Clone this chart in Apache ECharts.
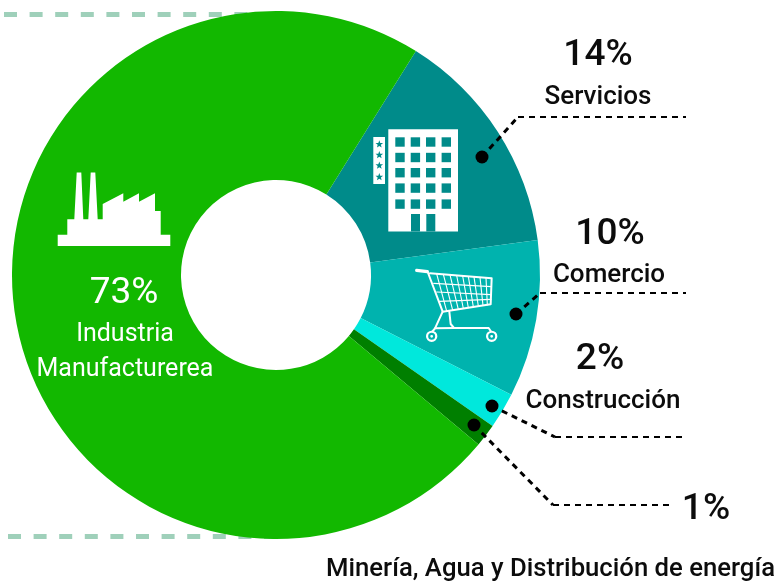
<!DOCTYPE html>
<html><head><meta charset="utf-8">
<style>html,body{margin:0;padding:0;background:#fff}#c{width:778px;height:582px}</style>
<script src="https://cdn.jsdelivr.net/npm/echarts@6/dist/echarts.min.js"></script>
</head><body><div id="c"></div>
<script>
const categories = ['Servicios','Comercio','Construcción','Minería, Agua y Distribución de energía','Industria Manufacturerea'];
const values = [14,9.6,2.2,1.4,72.8];
const sliceColors = ['#008b8a','#00b3ae','#00e8dc','#007f00','#12b800'];
const percentLabels = ['14%','10%','2%','1%','73%'];

const chart = echarts.init(document.getElementById('c'), null, {renderer:'canvas'});
const FONT = 'Roboto';
const INK = '#0c0c0c';
const txt = (text,x,y,size,fill,weight,align) => ({type:'text',z:20,style:{text,x,y,fontFamily:FONT,fontSize:size,fontWeight:weight||500,fill:fill||INK,align:align||'center',verticalAlign:'middle'}});
const dashed = (points,w) => ({type:'polyline',z:20,shape:{points},style:{fill:null,stroke:'#000',lineWidth:w,lineDash:[6,5]}});
const leader = (a,b,c) => [dashed([a,b],3),dashed([b,c],2.2),dot(a[0],a[1])];
const dot = (x,y) => ({type:'circle',z:21,shape:{cx:x,cy:y,r:6.5},style:{fill:'#000'}});
const star = (cx,cy,r,fill) => {const p=[];for(let i=0;i<10;i++){const a=-Math.PI/2+i*Math.PI/5,q=i%2?r*0.42:r;p.push([cx+q*Math.cos(a),cy+q*Math.sin(a)]);}return {type:'polygon',z:22,shape:{points:p},style:{fill}};};
const el = [];
// pale dashed rules behind the ring
el.push({type:'line',z:0,shape:{x1:4,y1:14.5,x2:250,y2:14.5},style:{stroke:'#9fd0ba',lineWidth:5,lineDash:[13,12.6]}});
el.push({type:'line',z:0,shape:{x1:8,y1:536.5,x2:278,y2:536.5},style:{stroke:'#9fd0ba',lineWidth:5,lineDash:[13,12.6]}});
// leader lines
el.push(...leader([482,157],[518,117],[686,117]));
el.push(...leader([516,314],[540,293],[686,293]));
el.push(...leader([492,406],[555,437],[686,437]));
el.push(...leader([474,425],[553,505],[670,505]));
// hotel icon
const W='#fff', T=sliceColors[0], T2=sliceColors[1];
el.push({type:'rect',z:21,shape:{x:388.3,y:129.3,width:69.7,height:102.2},style:{fill:W}});
el.push({type:'rect',z:21,shape:{x:373.3,y:137,width:11.7,height:47},style:{fill:W}});
[395.3,410.7,426,441.6].forEach(x=>[137.3,152.8,168,183.4,199.4].forEach(y=>{
  el.push({type:'rect',z:22,shape:{x,y,width:9.4,height:9.4},style:{fill:T}});
}));
[411,426.3].forEach(x=>el.push({type:'rect',z:22,shape:{x,y:214,width:9,height:17.5},style:{fill:T}}));
[144.3,155,165.5,177].forEach(y=>el.push(star(379.3,y,4,T)));
// factory icon
el.push({type:'polygon',z:21,shape:{points:[[57.7,246],[57.7,234.7],[67.3,234.7],[67.3,219.3],[74.3,219.3],[76.7,172.5],[81.3,172.5],[83.3,219.3],[88.3,219.3],[90.7,172.5],[95.3,172.5],[97.7,219.3],[102.7,219.3],[102.7,204],[123.3,193.3],[123.3,201.7],[139,193.3],[139,201.7],[155,193.3],[155,211],[160.7,211],[160.7,234.7],[170.3,234.7],[170.3,246]]},style:{fill:W}});
// cart icon (outline, in 3x crop units)
const P = (x,y) => [410+x/3,260+y/3];
const cl = (pts,w) => ({type:'polyline',z:21,shape:{points:pts.map(p=>P(p[0],p[1]))},style:{fill:null,stroke:W,lineWidth:w,lineJoin:'round',lineCap:'round'}});
el.push(cl([[20,31],[52,35]],3.2));
el.push(cl([[52,33],[98,155],[242,133],[245,55],[60,40]],2));
[80,100,120,140,158,175,192,210,228].forEach((x,i)=>{
  const bx=[110,128,145,160,175,190,205,219,232][i];
  el.push(cl([[x,40+(x-60)*15/185],[bx,155-(bx-98)*22/144]],1.1));
});
[[71,70,244,80],[80,96,243,104],[88,124,243,118]].forEach(r=>el.push(cl([[r[0],r[1]],[r[2],r[3]]],1.1)));
el.push(cl([[118,155],[122,192],[132,204],[236,204],[244,216]],2));
el.push(cl([[98,155],[75,205],[66,216]],2));
el.push(cl([[75,205],[132,204]],2));
[[65,229],[245,229]].forEach(c=>{
  const q=P(c[0],c[1]);
  el.push({type:'circle',z:21,shape:{cx:q[0],cy:q[1],r:4.6},style:{fill:T2,stroke:W,lineWidth:2.2}});
  el.push({type:'circle',z:22,shape:{cx:q[0],cy:q[1],r:1.4},style:{fill:W}});
});
// callouts
el.push(txt(percentLabels[0],598,56,37),txt(categories[0],598,97,26));
el.push(txt(percentLabels[1],610,235,37),txt(categories[1],609,275,26));
el.push(txt(percentLabels[2],600,360,37),txt(categories[2],603,401,26));
el.push(txt(percentLabels[3],706,510,37),txt(categories[3],550.5,570,25.7));
el.push(txt(percentLabels[4],124,294,37,W,400),txt('Industria',125,335,25,W,400),txt('Manufacturerea',125,370,25,W,400));

chart.setOption({
  animation:false,
  backgroundColor:'#fff',
  graphic:{elements:el},
  series:[{
    type:'pie',z:5,
    center:[276,275],radius:[95,264],
    startAngle:58,clockwise:true,
    avoidLabelOverlap:false,
    label:{show:false},labelLine:{show:false},
    emphasis:{disabled:true},
    data:categories.map((name,i)=>({name,value:values[i],itemStyle:{color:sliceColors[i]}}))
  }]
});
</script></body></html>
